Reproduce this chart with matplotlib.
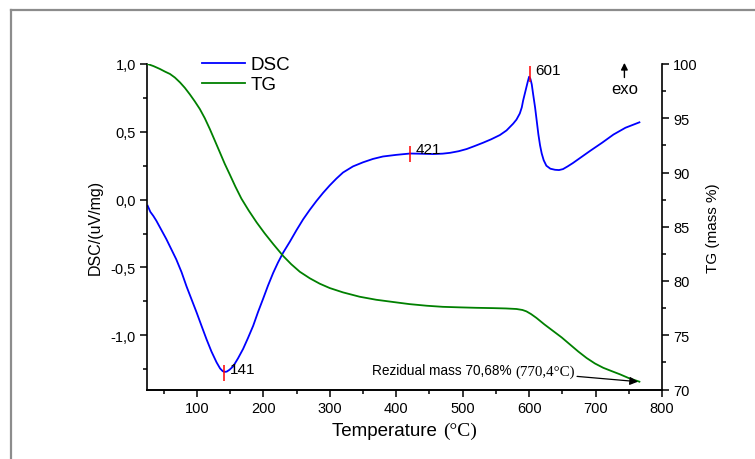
import matplotlib
matplotlib.use("Agg")
import matplotlib.pyplot as plt
from matplotlib.lines import Line2D
from matplotlib.ticker import MultipleLocator, FuncFormatter
from matplotlib.offsetbox import TextArea, HPacker, AnnotationBbox

plt.rcParams['font.family'] = ['Liberation Sans', 'DejaVu Sans']

# DSC curve (uV/mg) vs temperature
dsc_T = [26, 30, 34.5, 39, 44, 49, 54, 61, 69, 77, 84.5, 92, 99.5, 107, 114.6, 122,
         129.7, 135, 139, 142, 145, 149, 154.6, 162, 169.7, 177, 184.8, 192, 199.8,
         207, 214.9, 222, 230, 240, 250, 260, 270, 280, 290, 300, 310, 320, 335,
         350, 365, 380, 400, 421, 440, 456, 470, 481, 494, 506, 518, 531, 543, 556,
         566, 576, 581, 586, 589, 591, 594, 596, 598, 600, 602, 604, 606, 609,
         611.5, 614, 616.5, 619, 622, 626, 632, 639, 645, 651, 658, 666, 679, 692,
         710, 727, 745, 766]
dsc_v = [-0.045, -0.09, -0.12, -0.155, -0.20, -0.245, -0.29, -0.36, -0.44, -0.535,
         -0.64, -0.735, -0.83, -0.93, -1.03, -1.12, -1.20, -1.245, -1.265, -1.27,
         -1.268, -1.255, -1.23, -1.17, -1.10, -1.02, -0.93, -0.83, -0.73, -0.635,
         -0.54, -0.465, -0.39, -0.31, -0.225, -0.145, -0.075, -0.01, 0.05, 0.105,
         0.155, 0.20, 0.245, 0.275, 0.30, 0.318, 0.33, 0.34, 0.338, 0.336, 0.339,
         0.345, 0.357, 0.373, 0.395, 0.42, 0.445, 0.476, 0.51, 0.56, 0.59, 0.635,
         0.68, 0.73, 0.79, 0.83, 0.87, 0.906, 0.89, 0.85, 0.78, 0.68, 0.58, 0.48,
         0.40, 0.34, 0.29, 0.25, 0.228, 0.22, 0.218, 0.225, 0.245, 0.27, 0.315,
         0.36, 0.42, 0.48, 0.53, 0.57]

# TG curve (mass %) vs temperature
tg_T = [26, 35, 44.5, 52, 59.6, 67, 74.7, 82, 89.5, 97, 104.5, 112, 119.6, 127,
        134.7, 142, 149.7, 158, 167, 178, 190, 202, 215, 230, 242, 255, 270, 285,
        300, 320, 345, 370, 396, 420, 446, 470, 496, 520, 546, 565, 581, 590, 596,
        603, 611, 623, 636, 649, 661.5, 674, 686.6, 699, 711.6, 724, 736.7, 750, 766]
tg_m = [100, 99.8, 99.54, 99.3, 99.08, 98.75, 98.3, 97.8, 97.2, 96.55, 95.85, 95.0,
        94.0, 92.95, 91.85, 90.8, 89.8, 88.7, 87.6, 86.5, 85.4, 84.4, 83.4, 82.3,
        81.55, 80.85, 80.25, 79.75, 79.35, 78.95, 78.55, 78.27, 78.06, 77.87, 77.72,
        77.62, 77.57, 77.53, 77.5, 77.47, 77.42, 77.33, 77.2, 76.95, 76.6, 76.0,
        75.4, 74.8, 74.15, 73.5, 72.9, 72.4, 72.0, 71.7, 71.4, 71.05, 70.72]

# marked DSC events
peak_T = [141, 421, 601]
peak_v = [-1.277, 0.34, 0.926]

resid_T = 768
resid_m = 70.7

W, H = 755, 460
fig = plt.figure(figsize=(W / 100, H / 100), dpi=100)
fig.patch.set_facecolor('white')

# grey frame, cut off at right/bottom
fig.add_artist(Line2D([11 / W, 1.01], [1 - 11 / H, 1 - 11 / H], color='#8c8c8c', lw=1.6))
fig.add_artist(Line2D([11 / W, 11 / W], [1 - 11 / H, -0.01], color='#8c8c8c', lw=1.6))

left, right, top, bottom = 147, 662, 65, 390.5
ax = fig.add_axes([left / W, 1 - bottom / H, (right - left) / W, (bottom - top) / H])
ax2 = ax.twinx()

l1, = ax.plot(dsc_T, dsc_v, color='#0000ff', lw=1.3)
l2, = ax2.plot(tg_T, tg_m, color='#008000', lw=1.3)

ax.set_xlim(25, 800)
ax.set_ylim(-1.4, 1.0)
ax2.set_ylim(70, 100)

comma = FuncFormatter(lambda v, p: ('%.1f' % v).replace('.', ','))
ax.xaxis.set_major_locator(MultipleLocator(100))
ax.xaxis.set_minor_locator(MultipleLocator(50))
ax.yaxis.set_major_locator(MultipleLocator(0.5))
ax.yaxis.set_minor_locator(MultipleLocator(0.25))
ax.yaxis.set_major_formatter(comma)
ax2.yaxis.set_major_locator(MultipleLocator(5))
ax2.yaxis.set_minor_locator(MultipleLocator(2.5))

for a in (ax, ax2):
    a.spines['top'].set_visible(False)
    a.tick_params(which='major', direction='out', length=5, width=1.1, labelsize=10.5, pad=3)
    a.tick_params(which='minor', direction='out', length=3, width=1.1)
    for s in a.spines.values():
        s.set_linewidth(1.2)
ax.spines['right'].set_visible(False)
ax2.spines['left'].set_visible(False)
ax.tick_params(axis='x', which='both', top=False)

ax.set_ylabel('DSC/(uV/mg)', fontsize=11.5, labelpad=6)
ax2.set_ylabel('TG (mass %)', fontsize=11, labelpad=6)

# x label: sans + serif part
xl = HPacker(children=[TextArea('Temperature ', textprops=dict(fontsize=13.5, family='Liberation Sans')),
                       TextArea('(°C)', textprops=dict(fontsize=14, family='Liberation Serif'))],
             align='baseline', pad=0, sep=0)
ax.add_artist(AnnotationBbox(xl, (0.5, -0.125), xycoords='axes fraction',
                             box_alignment=(0.5, 0.5), frameon=False))

# event markers
ax.plot(peak_T, peak_v, ls='none', marker='|', ms=12, mew=1.1, color='red', zorder=3)
for t, v in zip(peak_T, peak_v):
    ax.annotate(str(t), (t, v), xytext=(4, 3), textcoords='offset points',
                fontsize=11, ha='left', va='center')

# exo arrow
ax.annotate('', xy=(0.927, 1.012), xytext=(0.927, 0.95), xycoords='axes fraction',
            arrowprops=dict(arrowstyle='-|>', color='black', lw=1, mutation_scale=10),
            annotation_clip=False)
ax.text(0.927, 0.925, 'exo', transform=ax.transAxes, fontsize=12, ha='center', va='center')

# residual mass note
rl = HPacker(children=[TextArea('Rezidual mass 70,68% ', textprops=dict(fontsize=9.8, family='Liberation Sans')),
                       TextArea('(770,4°C)', textprops=dict(fontsize=10.8, family='Liberation Serif'))],
             align='baseline', pad=0, sep=0)
ax2.add_artist(AnnotationBbox(rl, (363, 71.75), xycoords='data',
                              box_alignment=(0, 0.5), frameon=False))
ax2.annotate('', xy=(resid_T, resid_m), xytext=(668, 71.23),
             arrowprops=dict(arrowstyle='-|>', color='black', lw=0.9, mutation_scale=12))

fig.legend([l1, l2], ['DSC', 'TG'], loc='upper left', bbox_to_anchor=(202 / W, 1 - 57 / H),
           frameon=False, fontsize=13.5, handlelength=2.3, handletextpad=0.3,
           labelspacing=0.15, borderpad=0, borderaxespad=0)

fig.savefig('out.png', dpi=100)
